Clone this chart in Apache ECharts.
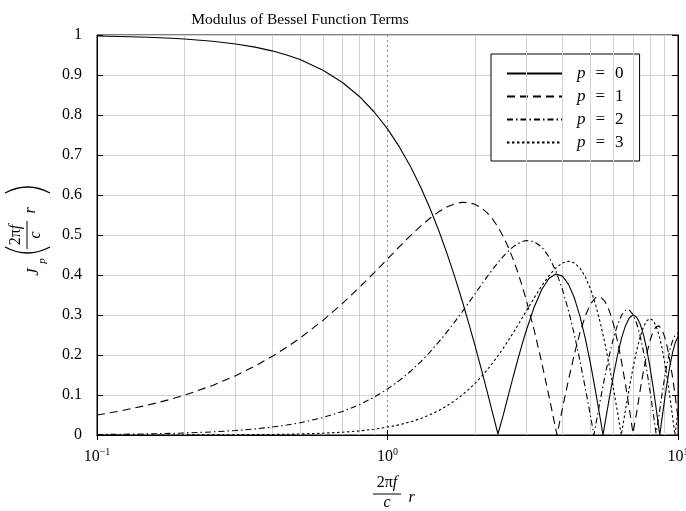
<!DOCTYPE html>
<html><head><meta charset="utf-8">
<script src="https://cdn.jsdelivr.net/npm/echarts@6/dist/echarts.min.js"></script>
<style>html,body{margin:0;padding:0;background:#fff}#c{width:686px;height:511px}</style>
</head><body><div id="c"></div>
<script>
// sample points of 2*pi*f/c*r
const xs = [0.1,0.12,0.15,0.18,0.2,0.25,0.3,0.35,0.4,0.45,0.5,0.6,0.7,0.8,0.9,
1.0,1.1,1.2,1.3,1.4,1.5,1.6,1.7,1.8,1.9,2.0,2.1,2.2,2.3,2.4,2.5,2.6,2.7,2.8,2.9,3.0,
3.2,3.4,3.6,3.8,4.0,4.2,4.4,4.6,4.8,5.0,5.2,5.4,5.6,5.8,6.0,6.2,6.4,6.6,6.8,7.0,7.2,7.4,7.6,7.8,8.0,8.2,8.4,8.6,8.8,9.0,9.2,9.4,9.6,9.8,10.0];
// |J_p| values
const j0 = [0.9975,0.9964,0.9944,0.9919,0.9900,0.9844,0.9776,0.9696,0.9604,0.9500,0.9385,0.9120,0.8812,0.8463,0.8075,
0.7652,0.7196,0.6711,0.6201,0.5669,0.5118,0.4554,0.3980,0.3400,0.2818,0.2239,0.1666,0.1104,0.0555,0.0025,0.0484,0.0968,0.1424,0.1850,0.2243,0.2601,
0.3202,0.3643,0.3918,0.4026,0.3972,0.3766,0.3423,0.2961,0.2404,0.1776,0.1103,0.0412,0.0270,0.0917,0.1506,0.2017,0.2433,0.2740,0.2931,0.3001,0.2951,0.2786,0.2516,0.2154,0.1717,0.1222,0.0692,0.0146,0.0392,0.0903,0.1367,0.1768,0.2089,0.2321,0.2459];
const j1 = [0.0499,0.0599,0.0748,0.0896,0.0995,0.1240,0.1483,0.1723,0.1960,0.2194,0.2423,0.2867,0.3290,0.3688,0.4060,
0.4401,0.4709,0.4983,0.5220,0.5419,0.5579,0.5699,0.5778,0.5815,0.5812,0.5767,0.5683,0.5561,0.5399,0.5202,0.4971,0.4708,0.4416,0.4100,0.3753,0.3391,
0.2613,0.1792,0.0955,0.0128,0.0660,0.1386,0.2028,0.2566,0.2985,0.3276,0.3432,0.3453,0.3343,0.3110,0.2767,0.2329,0.1816,0.1250,0.0652,0.0047,0.0543,0.1096,0.1592,0.2014,0.2346,0.2580,0.2708,0.2728,0.2641,0.2453,0.2174,0.1816,0.1395,0.0928,0.0435];
const j2 = [0.00125,0.0018,0.0028,0.0040,0.0050,0.0078,0.0112,0.0152,0.0197,0.0249,0.0306,0.0437,0.0588,0.0758,0.0946,
0.1149,0.1366,0.1593,0.1830,0.2074,0.2321,0.2570,0.2817,0.3061,0.3299,0.3528,0.3746,0.3952,0.4139,0.4310,0.4461,0.4590,0.4696,0.4779,0.4831,0.4861,
0.4835,0.4697,0.4448,0.4093,0.3641,0.3105,0.2501,0.1846,0.1161,0.0466,0.0217,0.0867,0.1464,0.1990,0.2429,0.2769,0.3001,0.3119,0.3123,0.3014,0.2800,0.2490,0.2097,0.1638,0.1130,0.0593,0.0047,0.0488,0.0993,0.1448,0.1840,0.2154,0.2380,0.2510,0.2546];
const j3 = [0.00002,0.00004,0.00007,0.00012,0.00017,0.00032,0.00056,0.00089,0.00132,0.00187,0.00256,0.00440,0.00693,0.01025,0.01443,
0.0196,0.0257,0.0329,0.0411,0.0505,0.0610,0.0725,0.0852,0.0988,0.1134,0.1289,0.1453,0.1624,0.1800,0.1981,0.2166,0.2353,0.2540,0.2727,0.2911,0.3091,
0.3431,0.3734,0.3988,0.4180,0.4302,0.4344,0.4301,0.4171,0.3952,0.3648,0.3265,0.2811,0.2298,0.1738,0.1148,0.0543,0.0059,0.0641,0.1185,0.1676,0.2099,0.2442,0.2696,0.2853,0.2911,0.2869,0.2730,0.2501,0.2190,0.1809,0.1374,0.0900,0.0404,0.0096,0.0584];
// zero crossings (cusps of the modulus)
const zeros0 = [2.4048, 5.5201, 8.6537];
const zeros1 = [3.8317, 7.0156];
const zeros2 = [5.1356, 8.4172];
const zeros3 = [6.3802, 9.7610];
const seriesNames = ['p = 0', 'p = 1', 'p = 2', 'p = 3'];
const minorGridX = [0.2,0.3,0.4,0.5,0.6,0.7,0.8,0.9,2,3,4,5,6,7,8,9];
const titleText = 'Modulus of Bessel Function Terms';

const FONT = '"Liberation Serif", "Times New Roman", serif';

function pairs(vals, zeros) {
  const d = xs.map((x, i) => [x, vals[i]]);
  zeros.forEach(z => d.push([z, 0]));
  d.sort((a, b) => a[0] - b[0]);
  return d;
}

const dashes = ['solid', [8, 5], [6, 3, 1.5, 3], [2.5, 2.5]];
const vals = [j0, j1, j2, j3];
const zs = [zeros0, zeros1, zeros2, zeros3];

const series = seriesNames.map((n, k) => ({
  name: n, type: 'line', xAxisIndex: 0, yAxisIndex: 0,
  data: pairs(vals[k], zs[k]),
  showSymbol: false, symbol: 'none', z: 5,
  lineStyle: { color: '#000', width: 1.1, type: dashes[k] },
  itemStyle: { color: '#000' },
  emphasis: { disabled: true }
}));
series.unshift({
  name: 'minor', type: 'line', data: [], z: 1, silent: true,
  markLine: {
    silent: true, symbol: ['none', 'none'], label: { show: false },
    lineStyle: { color: '#d2d2d2', width: 1, type: 'solid' },
    emphasis: { disabled: true },
    data: minorGridX.map(v => ({ xAxis: v }))
  }
});

function txt(x, y, text, size, italic, align) {
  return { type: 'text', x: x, y: y, silent: true,
    style: { text: text, fill: '#000', fontFamily: FONT, fontSize: size,
      fontStyle: italic ? 'italic' : 'normal',
      align: align || 'center', verticalAlign: 'middle',
      textAlign: align || 'center', textVerticalAlign: 'middle' } };
}
function fracParts() {
  return [
    { type: 'text', x: -3, y: -11, silent: true,
      style: { text: '2π{i|f}', fill: '#000', fontFamily: FONT, fontSize: 16,
        align: 'center', verticalAlign: 'middle', textAlign: 'center', textVerticalAlign: 'middle',
        rich: { i: { fontStyle: 'italic', fontFamily: FONT, fontSize: 16, fill: '#000' } } } },
    { type: 'line', silent: true, shape: { x1: -17, y1: 0, x2: 11, y2: 0 }, style: { stroke: '#000', lineWidth: 1 } },
    txt(-3, 9, 'c', 16, true),
    txt(21.5, 4, 'r', 16, true)
  ];
}
function paren(x, bulge) {
  return { type: 'bezierCurve', silent: true,
    shape: { x1: x, y1: -22, x2: x, y2: 23, cpx1: x + bulge, cpy1: -7, cpx2: x + bulge, cpy2: 8 },
    style: { fill: null, stroke: '#000', lineWidth: 1.3 } };
}

const option = {
  animation: false,
  backgroundColor: '#fff',
  title: {
    text: titleText, left: 295, textAlign: 'center', top: 7,
    textStyle: { fontFamily: FONT, fontSize: 15.5, fontWeight: 'normal', color: '#000' }
  },
  grid: { left: 97, right: 8, top: 35, bottom: 76, show: true, borderColor: '#000', borderWidth: 1,
    containLabel: false, outerBoundsMode: 'none' },
  legend: {
    data: seriesNames, orient: 'vertical', left: 491, top: 54,
    padding: [11, 16, 10, 15], itemGap: 6, itemWidth: 55, itemHeight: 14,
    borderColor: '#000', borderWidth: 1, backgroundColor: '#fff', selectedMode: false,
    itemStyle: { opacity: 0 },
    formatter: n => '{i|p}{e|=}{d|' + n.slice(-1) + '}',
    textStyle: { fontFamily: FONT, fontSize: 17, color: '#000',
      rich: { i: { fontFamily: FONT, fontSize: 17, fontStyle: 'italic', color: '#000', padding: [0, 0, 0, 10] },
              e: { fontFamily: FONT, fontSize: 17, color: '#000', padding: [0, 10] },
              d: { fontFamily: FONT, fontSize: 17, color: '#000' } } }
  },
  xAxis: [{
    type: 'log', logBase: 10, min: 0.1, max: 10, position: 'bottom', gridIndex: 0,
    axisLine: { show: true, lineStyle: { color: '#000', width: 1 } },
    axisTick: { show: true, inside: true, length: 5, lineStyle: { color: '#000' } },
    minorTick: { show: false },
    splitLine: { show: true, lineStyle: { color: '#8a8a8a', type: [2, 3], width: 1 } },
    axisLabel: {
      margin: 12, color: '#000',
      formatter: v => { const e = Math.round(Math.log10(v)); return '{m|10}{s|' + (e < 0 ? '−' + (-e) : e) + '}'; },
      rich: { m: { fontFamily: FONT, fontSize: 16, color: '#000', lineHeight: 18, verticalAlign: 'bottom' },
              s: { fontFamily: FONT, fontSize: 10, color: '#000', lineHeight: 10, verticalAlign: 'top' } }
    }
  }, {
    type: 'log', logBase: 10, min: 0.1, max: 10, position: 'top', gridIndex: 0,
    axisLine: { show: true, lineStyle: { color: '#000', width: 1 } },
    axisTick: { show: true, inside: true, length: 5, lineStyle: { color: '#000' } },
    axisLabel: { show: false }, splitLine: { show: false }
  }],
  yAxis: [{
    type: 'value', min: 0, max: 1, interval: 0.1, position: 'left', gridIndex: 0,
    axisLine: { show: true, lineStyle: { color: '#000', width: 1 } },
    axisTick: { show: true, inside: true, length: 6, lineStyle: { color: '#000' } },
    splitLine: { show: true, lineStyle: { color: '#d2d2d2', width: 1, type: 'solid' } },
    axisLabel: { margin: 15, color: '#000', fontFamily: FONT, fontSize: 16,
      formatter: v => (Math.abs(v) < 1e-9 ? '0' : (Math.abs(v - 1) < 1e-9 ? '1' : v.toFixed(1))) }
  }, {
    type: 'value', min: 0, max: 1, interval: 0.1, position: 'right', gridIndex: 0,
    axisLine: { show: true, lineStyle: { color: '#000', width: 1 } },
    axisTick: { show: true, inside: true, length: 6, lineStyle: { color: '#000' } },
    splitLine: { show: false }, axisLabel: { show: false }
  }],
  graphic: [
    { type: 'group', x: 27, y: 232, rotation: Math.PI / 2, children: [
      txt(-40, 7, 'J', 17, true),
      txt(-29, 15, 'p', 11, true),
      paren(-15, -8),
      ...fracParts(),
      paren(39, 8)
    ] },
    { type: 'group', x: 390, y: 494, children: fracParts() }
  ],
  series: series
};

const chart = echarts.init(document.getElementById('c'), null, { renderer: 'canvas' });
chart.setOption(option);
</script>
</body></html>
